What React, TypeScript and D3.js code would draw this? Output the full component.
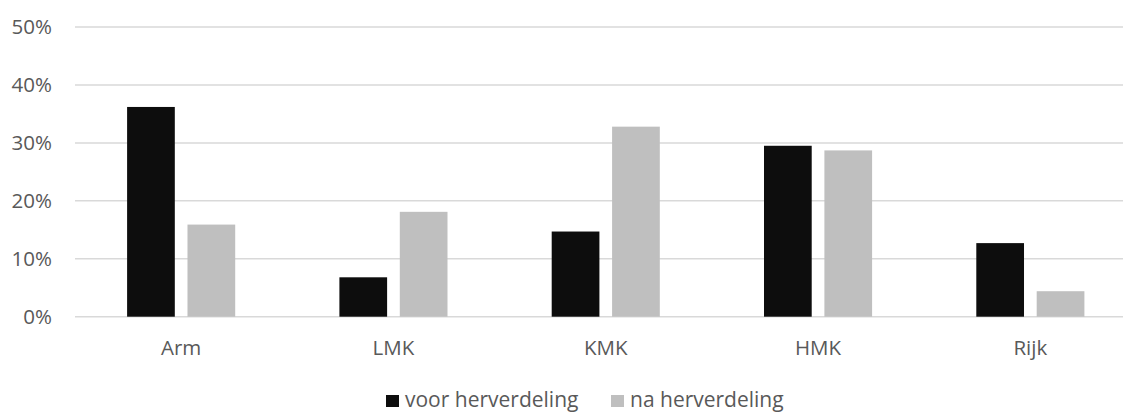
import React from "react";
import * as d3 from "d3";

const categories = ["Arm", "LMK", "KMK", "HMK", "Rijk"];
const seriesNames = ["voor herverdeling", "na herverdeling"];
const voorValues = [0.362, 0.068, 0.147, 0.295, 0.127];
const naValues = [0.159, 0.181, 0.328, 0.287, 0.044];
const yTicks = [0, 0.1, 0.2, 0.3, 0.4, 0.5];
const colors = ["#0d0d0d", "#bfbfbf"];

const W = 1123;
const H = 412;

export default function App() {
  if (typeof document !== "undefined") document.body.style.margin = "0";
  const x = d3.scaleBand<string>().domain(categories).range([75, 75 + 5 * 212.3]).paddingInner(0).paddingOuter(0);
  const xInner = d3.scaleBand<string>().domain(seriesNames).range([52.1, 160.2]).paddingInner(0.21).paddingOuter(0);
  const y = d3.scaleLinear().domain([0, 0.5]).range([316.7, 27]);
  const fmt = d3.format(".0%");
  const series = [voorValues, naValues];
  const font = "'Open Sans', sans-serif";
  const textColor = "#595959";
  const legendX = [386, 611];
  const legendTextX = [405, 630];

  return (
    <svg width={W} height={H} style={{ display: "block", background: "#fff" }}>
      {yTicks.map((t) => (
        <g key={t}>
          <line x1={75} x2={W} y1={y(t)} y2={y(t)} stroke="#d9d9d9" strokeWidth={1.5} />
          <text x={52} y={y(t)} dy="0.36em" textAnchor="end" fontFamily={font} fontSize={20.5} fill={textColor}>
            {fmt(t)}
          </text>
        </g>
      ))}
      {series.map((vals, si) =>
        vals.map((v, i) => (
          <rect
            key={si + "-" + i}
            x={(x(categories[i]) as number) + (xInner(seriesNames[si]) as number)}
            y={y(v)}
            width={xInner.bandwidth()}
            height={y(0) - y(v)}
            fill={colors[si]}
          />
        ))
      )}
      {categories.map((c) => (
        <text key={c} x={(x(c) as number) + x.bandwidth() / 2} y={355} textAnchor="middle" fontFamily={font} fontSize={20.5} fill={textColor}>
          {c}
        </text>
      ))}
      {seriesNames.map((s, si) => (
        <g key={s}>
          <rect x={legendX[si]} y={395} width={13} height={12} fill={colors[si]} />
          <text x={legendTextX[si]} y={407} fontFamily={font} fontSize={21} fill={textColor}>
            {s}
          </text>
        </g>
      ))}
    </svg>
  );
}
